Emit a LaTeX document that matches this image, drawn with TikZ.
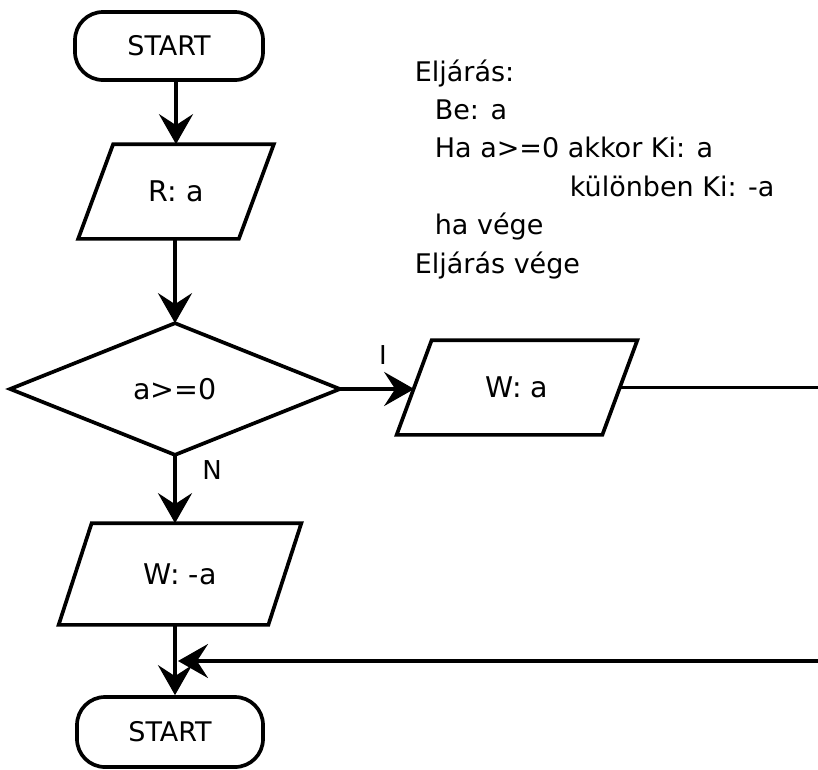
\documentclass[tikz,border=0pt]{standalone}
\usepackage{fontspec}
\setmainfont{DejaVu Sans}
\usetikzlibrary{arrows.meta,calc}
\newcommand\drawpara[2]{%
  \draw ($(#1.north west)+(#2/2,0)$) -- ($(#1.north east)+(#2/2,0)$) --
        ($(#1.south east)-(#2/2,0)$) -- ($(#1.south west)-(#2/2,0)$) -- cycle;}
\begin{document}
\begin{tikzpicture}[x=1pt,y=-1pt,line width=3.7pt,
  arr/.style={-{Stealth[length=30pt,width=34pt,inset=11pt]}},
  term/.style={draw,rounded corners=28pt,inner sep=0pt,font=\fontsize{27}{32}\selectfont},
  io/.style={inner sep=0pt,font=\fontsize{28.5}{34}\selectfont},
  code/.style={anchor=base west,inner sep=0pt,font=\fontsize{27}{32}\selectfont},
  lbl/.style={inner sep=0pt,font=\fontsize{26}{31}\selectfont}]
\useasboundingbox (0,0) rectangle (818,769);
% shapes
\node[term,minimum width=188pt,minimum height=68pt] (s1) at (169,46) {START};
\node[io,minimum width=157pt,minimum height=91pt] (ra) at (176,191.5) {R: a};
\drawpara{ra}{35}
\node[io,minimum width=326pt,minimum height=128pt] (dec) at (175,389) {a>=0};
\draw (dec.north) -- (dec.east) -- (dec.south) -- (dec.west) -- cycle;
\node[io,minimum width=202pt,minimum height=91pt] (wa) at (517,387.5) {W: a};
\drawpara{wa}{35}
\node[io,minimum width=206pt,minimum height=98pt] (wma) at (180,574) {W: -a};
\drawpara{wma}{33}
\node[term,minimum width=186pt,minimum height=70pt] (s2) at (170,732) {START};
% labels
\node[lbl] (li) at (383,355) {I};
\node[lbl] (ln) at (212,470) {N};
% code text
\node[code] (t1) at (413,81) {Eljárás:};
\node[code] (t2) at (433,119) {Be: a};
\node[code] (t3) at (433,157.5) {Ha a>=0 akkor Ki: a};
\node[code] (t4) at (568,196) {különben Ki: -a};
\node[code] (t5) at (433,234.5) {ha vége};
\node[code] (t6) at (413,273) {Eljárás vége};
% connectors
\coordinate (wend) at (818,387.5);
\coordinate (ret) at (818,661);
\coordinate (j) at (178,661);
\draw[arr] (s1.south -| ra.north) -- (ra.north);
\draw[arr] (ra.south -| dec.north) -- (dec.north);
\draw[arr] (dec.east) -- (wa.west |- dec.east);
\draw (wa.east) -- (wend);
\draw[arr] (dec.south) -- (dec.south |- wma.north);
\draw[arr] (dec.south |- wma.south) -- (dec.south |- s2.north);
\draw[arr] (ret) -- (j);
\end{tikzpicture}
\end{document}
